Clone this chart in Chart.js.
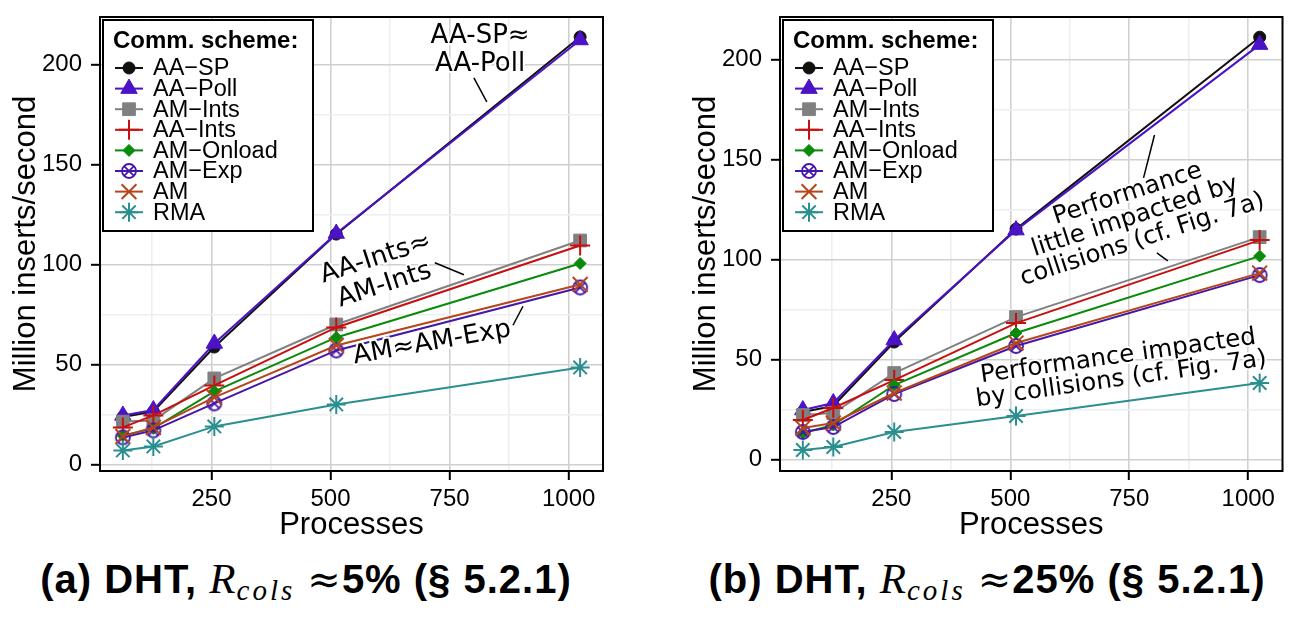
<!DOCTYPE html>
<html>
<head>
<meta charset="utf-8">
<script src="https://cdn.jsdelivr.net/npm/chart.js@4.4.1/dist/chart.umd.min.js"></script>
<style>
body { margin:0; background:#fff; width:1295px; height:621px; position:relative; overflow:hidden; }
#wrapA { position:absolute; left:0; top:0; }
#wrapB { position:absolute; left:680px; top:0; }
.cap { position:absolute; top:554px; font-family:'Liberation Sans'; font-weight:bold; font-size:40px; letter-spacing:1px; text-align:center; white-space:nowrap; color:#000; }
.rc { font-family:'Liberation Serif'; font-style:italic; font-weight:normal; font-size:43px; }
.rc sub { font-size:29px; letter-spacing:3px; vertical-align:-7px; }
.ap { font-family:'DejaVu Serif'; font-weight:normal; }
</style>
</head>
<body>
<div id="wrapA"><canvas id="graficaA" width="640" height="552"></canvas></div>
<div id="wrapB"><canvas id="graficaB" width="615" height="552"></canvas></div>
<div class="cap" style="left:0; width:612px;">(a) DHT, <span class="rc">R<sub>cols</sub></span> <span class="ap">≈</span>5% (§ 5.2.1)</div>
<div class="cap" style="left:680px; width:614px;">(b) DHT, <span class="rc">R<sub>cols</sub></span> <span class="ap">≈</span>25% (§ 5.2.1)</div>
<script>
// eje x: numero de procesos
const procesos = [64, 128, 256, 512, 1024];
const xTicks = [250, 500, 750, 1000];
const xGrid = [125, 250, 375, 500, 625, 750, 875, 1000];
const yTicks = [0, 50, 100, 150, 200];
const yGrid = [0, 25, 50, 75, 100, 125, 150, 175, 200];

const etiquetas = ['AA\u2212SP', 'AA\u2212Poll', 'AM\u2212Ints', 'AA\u2212Ints', 'AM\u2212Onload', 'AM\u2212Exp', 'AM', 'RMA'];
const colores = ['#111111', '#4b12c6', '#808080', '#c80f0f', '#0a8a0a', '#4616aa', '#b5461b', '#2b8f8f'];

// (a) R_cols ~ 5%
const aaSpA     = [23.7, 26.4, 58.7, 115.2, 213.8];
const aaPollA   = [24.5, 27.2, 60.5, 115.5, 212.3];
const amIntsA   = [21.4, 22.0, 43.0, 70.0, 112.0];
const aaIntsA   = [18.5, 24.5, 39.5, 68.5, 109.5];
const amOnloadA = [14.5, 18.0, 36.5, 63.5, 100.5];
const amExpA    = [13.5, 17.0, 30.5, 57.0, 88.5];
const amA       = [14.0, 18.5, 33.5, 59.5, 90.0];
const rmaA      = [7.0, 9.0, 19.0, 30.0, 48.5];

// (b) R_cols ~ 25%
const aaSpB     = [23.7, 26.7, 58.7, 115.2, 211.2];
const aaPollB   = [24.7, 28.2, 59.7, 114.7, 207.5];
const amIntsB   = [22.2, 23.2, 43.2, 71.2, 111.2];
const aaIntsB   = [19.7, 25.7, 39.7, 68.2, 109.7];
const amOnloadB = [13.2, 17.2, 37.2, 63.2, 101.7];
const amExpB    = [13.7, 16.2, 32.7, 56.7, 92.2];
const amB       = [15.7, 18.2, 33.2, 58.2, 93.2];
const rmaB      = [4.7, 6.2, 13.7, 21.7, 38.2];

const seriesA = [aaSpA, aaPollA, amIntsA, aaIntsA, amOnloadA, amExpA, amA, rmaA];
const seriesB = [aaSpB, aaPollB, amIntsB, aaIntsB, amOnloadB, amExpB, amB, rmaB];

// marcador circulo con x (AM-Exp)
function marcadorOtimes(color) {
    let c = document.createElement('canvas');
    c.width = 20; c.height = 20;
    let g = c.getContext('2d');
    g.strokeStyle = color;
    g.lineWidth = 1.8;
    g.beginPath();
    g.arc(10, 10, 7, 0, 2 * Math.PI);
    g.stroke();
    let d = 7 * Math.SQRT1_2;
    g.beginPath();
    g.moveTo(10 - d, 10 - d); g.lineTo(10 + d, 10 + d);
    g.moveTo(10 + d, 10 - d); g.lineTo(10 - d, 10 + d);
    g.stroke();
    return c;
}

const marcadores = [
    { estilo: 'circle', radio: 6, borde: 1 },
    { estilo: 'triangle', radio: 9.5, borde: 1 },
    { estilo: 'rect', radio: 9, borde: 1 },
    { estilo: 'cross', radio: 10, borde: 2 },
    { estilo: 'rectRot', radio: 6, borde: 1 },
    { estilo: marcadorOtimes(colores[5]), radio: 7, borde: 1.8 },
    { estilo: 'crossRot', radio: 10.5, borde: 2 },
    { estilo: 'star', radio: 9.5, borde: 2 }
];

// textos y lineas guia (coordenadas en datos)
const notasA = {
    textos: [
        { x: 814, y: 207, ang: 0, tam: 26, sep: 28, lineas: ['AA-SP\u2248', 'AA-Poll'] },
        { x: 604, y: 96.3, ang: 18, tam: 26, sep: 28, lineas: ['AA-Ints\u2248', 'AM-Ints'] },
        { x: 713, y: 60.7, ang: 10, tam: 26, sep: 0, lineas: ['AM\u2248AM-Exp'] }
    ],
    guias: [[801, 193.3, 828, 181.3], [719, 100.9, 780, 94.9], [904, 79.1, 883, 69.6]]
};
const notasB = {
    textos: [
        { x: 762, y: 121.3, ang: 18, tam: 24.5, sep: 24, lineas: ['Performance', 'little impacted by', 'collisions (cf. Fig. 7a)'] },
        { x: 730, y: 45.7, ang: 8, tam: 24.5, sep: 23, lineas: ['Performance impacted', 'by collisions (cf. Fig. 7a)'] }
    ],
    guias: [[803, 162.3, 780, 140.8], [808, 103.3, 831, 99.3]]
};

Chart.defaults.font.family = 'Liberation Sans';
Chart.defaults.color = '#000';

function dibujarPunto(ctx, m, x, y) {
    if (Chart.helpers && Chart.helpers.drawPoint) {
        Chart.helpers.drawPoint(ctx, { pointStyle: m.estilo, radius: m.radio, rotation: 0, borderWidth: m.borde }, x, y);
    }
}

const notasPlugin = {
    id: 'notas',
    afterDatasetsDraw(chart) {
        let ctx = chart.ctx;
        let xs = chart.scales.x;
        let ys = chart.scales.y;
        let notas = chart.options.plugins.notas;
        let a = chart.chartArea;

        ctx.save();
        ctx.strokeStyle = '#000';
        ctx.lineWidth = 1.5;
        notas.guias.forEach(g => {
            ctx.beginPath();
            ctx.moveTo(xs.getPixelForValue(g[0]), ys.getPixelForValue(g[1]));
            ctx.lineTo(xs.getPixelForValue(g[2]), ys.getPixelForValue(g[3]));
            ctx.stroke();
        });

        notas.textos.forEach(t => {
            ctx.save();
            ctx.translate(xs.getPixelForValue(t.x), ys.getPixelForValue(t.y));
            ctx.rotate(-t.ang * Math.PI / 180);
            ctx.font = t.tam + 'px "DejaVu Sans"';
            ctx.textAlign = 'center';
            ctx.textBaseline = 'middle';
            ctx.lineJoin = 'round';
            t.lineas.forEach((s, i) => {
                let dy = (i - (t.lineas.length - 1) / 2) * t.sep;
                ctx.strokeStyle = '#fff';
                ctx.lineWidth = 4;
                ctx.strokeText(s, 0, dy);
                ctx.fillStyle = '#000';
                ctx.fillText(s, 0, dy);
            });
            ctx.restore();
        });

        // marco del area
        ctx.strokeStyle = '#000';
        ctx.lineWidth = 2;
        ctx.strokeRect(a.left, a.top, a.right - a.left, a.bottom - a.top);

        // leyenda
        let bx = a.left + 3, by = a.top + 3;
        ctx.fillStyle = '#fff';
        ctx.fillRect(bx, by, 210, 211);
        ctx.strokeRect(bx, by, 210, 211);
        ctx.fillStyle = '#000';
        ctx.textAlign = 'left';
        ctx.textBaseline = 'middle';
        ctx.font = 'bold 24px "Liberation Sans"';
        ctx.fillText('Comm. scheme:', a.left + 13, a.top + 24);
        ctx.font = '23.5px "Liberation Sans"';
        chart.data.datasets.forEach((ds, i) => {
            let y = a.top + 51 + i * 20.6;
            ctx.strokeStyle = ds.borderColor;
            ctx.fillStyle = ds.borderColor;
            ctx.lineWidth = 2;
            ctx.beginPath();
            ctx.moveTo(a.left + 15, y);
            ctx.lineTo(a.left + 43, y);
            ctx.stroke();
            ctx.lineWidth = marcadores[i].borde;
            dibujarPunto(ctx, marcadores[i], a.left + 29, y);
            ctx.fillStyle = '#000';
            ctx.fillText(ds.label, a.left + 53, y + 1);
        });
        ctx.restore();
    }
};

function armarDatasets(series) {
    return series.map((valores, i) => ({
        label: etiquetas[i],
        data: procesos.map((p, j) => ({ x: p, y: valores[j] })),
        borderColor: colores[i],
        backgroundColor: colores[i],
        borderWidth: 2,
        pointStyle: marcadores[i].estilo,
        pointRadius: marcadores[i].radio,
        pointBorderWidth: marcadores[i].borde,
        pointBorderColor: colores[i],
        pointBackgroundColor: colores[i],
        tension: 0,
        order: series.length - 1 - i
    }));
}

function crearGrafica(id, series, yMin, yMax, derecha, notas) {
    let ctx = document.getElementById(id).getContext('2d');
    return new Chart(ctx, {
        type: 'line',
        data: { datasets: armarDatasets(series) },
        plugins: [notasPlugin],
        options: {
            responsive: false,
            animation: false,
            layout: { padding: { left: 0, right: derecha, top: 17, bottom: 0 } },
            plugins: {
                legend: { display: false },
                tooltip: { enabled: false },
                notas: notas
            },
            scales: {
                x: {
                    type: 'linear',
                    min: 16,
                    max: 1072,
                    afterBuildTicks: s => { s.ticks = xGrid.map(v => ({ value: v })); },
                    afterFit: s => { s.height = 81; s.paddingLeft = 0; s.paddingRight = 0; },
                    ticks: {
                        autoSkip: false,
                        maxRotation: 0,
                        padding: 5,
                        font: { size: 24 },
                        callback: v => xTicks.includes(v) ? String(v) : ''
                    },
                    grid: {
                        color: c => xTicks.includes(c.tick.value) ? '#d0d0d0' : '#eeeeee',
                        lineWidth: 1.6,
                        tickLength: 9,
                        tickWidth: 2,
                        tickColor: c => xTicks.includes(c.tick.value) ? '#000' : 'rgba(0,0,0,0)'
                    },
                    border: { display: false },
                    title: { display: true, text: 'Processes', font: { size: 31, lineHeight: 1.2 }, padding: { top: 0, bottom: 8 } }
                },
                y: {
                    type: 'linear',
                    min: yMin,
                    max: yMax,
                    afterBuildTicks: s => { s.ticks = yGrid.map(v => ({ value: v })); },
                    afterFit: s => { s.width = 100; s.paddingTop = 0; s.paddingBottom = 0; },
                    ticks: {
                        autoSkip: false,
                        padding: 9,
                        font: { size: 24 },
                        callback: v => yTicks.includes(v) ? String(v) : ''
                    },
                    grid: {
                        color: c => yTicks.includes(c.tick.value) ? '#d0d0d0' : '#eeeeee',
                        lineWidth: 1.6,
                        tickLength: 9,
                        tickWidth: 2,
                        tickColor: c => yTicks.includes(c.tick.value) ? '#000' : 'rgba(0,0,0,0)'
                    },
                    border: { display: false },
                    title: { display: true, text: 'Million inserts/second', font: { size: 31, lineHeight: 1.2 }, padding: { top: 8, bottom: 0 } }
                }
            }
        }
    });
}

crearGrafica('graficaA', seriesA, -3.3, 223.8, 37, notasA);
crearGrafica('graficaB', seriesB, -5.8, 221.3, 11, notasB);
</script>
</body>
</html>
